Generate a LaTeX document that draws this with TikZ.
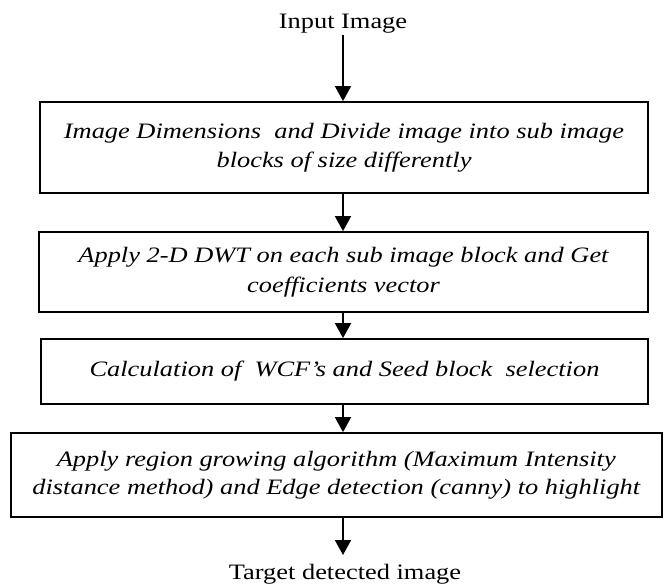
\documentclass[tikz,border=0pt]{standalone}
\usepackage{fontspec}
\setmainfont{Liberation Serif}[FakeStretch=1.2]
\usetikzlibrary{arrows.meta}
\begin{document}
\begin{tikzpicture}[x=1pt,y=-1pt,
  box/.style={draw=black, line width=1.8pt, rectangle, inner sep=0pt, align=center,
    font=\fontsize{22}{29.5}\selectfont\itshape},
  plain/.style={font=\fontsize{22}{26}\selectfont, inner sep=0pt},
  arr/.style={line width=1.8pt, -{Triangle[length=15pt,width=16pt]}}]
\useasboundingbox (0,0) rectangle (664,584);
\node[plain, anchor=base, inner sep=2.5pt] (in) at (343,28) {Input Image};
\node[box, minimum width=608pt, minimum height=91pt] (b1) at (344,147.5)
  {Image Dimensions\ \ and Divide image into sub image\\blocks of size differently};
\node[box, minimum width=609pt, minimum height=80pt] (b2) at (343.5,272)
  {Apply 2-D DWT on each sub image block and Get\\coefficients vector};
\node[box, minimum width=607pt, minimum height=65pt] (b3) at (344.5,371.5)
  {Calculation of\ \ WCF’s and Seed block\ \ selection};
\node[box, minimum width=651pt, minimum height=84pt, font=\fontsize{22}{27.5}\selectfont\itshape] (b4) at (336.3,475)
  {Apply region growing algorithm (Maximum Intensity\\distance method) and Edge detection (canny) to highlight};
\node[plain, anchor=base, inner sep=0pt] (out) at (345,579) {Target detected image};
\coordinate (tgt) at (343,555);
\draw[arr] (in.south) -- (b1.north -| in.south);
\draw[arr] (b1.south -| in.south) -- (b2.north -| in.south);
\draw[arr] (b2.south -| in.south) -- (b3.north -| in.south);
\draw[arr] (b3.south -| in.south) -- (b4.north -| in.south);
\draw[arr] (b4.south -| in.south) -- (tgt);
\end{tikzpicture}
\end{document}
